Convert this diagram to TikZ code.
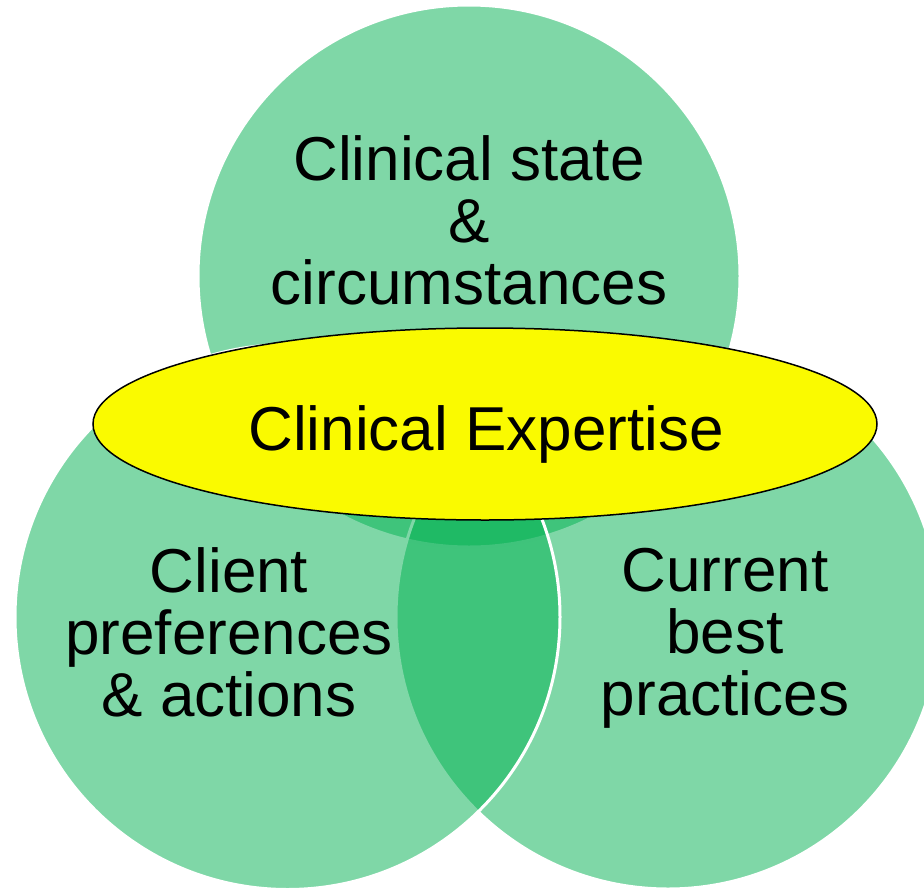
\documentclass[tikz,border=0pt]{standalone}
\usepackage{fontspec}
\setmainfont{Liberation Sans}
\usepackage{tikz}
\definecolor{vennGreen}{RGB}{0,176,80}
\definecolor{expertYellow}{RGB}{250,250,0}
\tikzset{
  venn/.style={fill=vennGreen, fill opacity=0.5, draw=white, line width=3pt},
  vennText/.style={align=center, inner sep=0pt, text=black, font=\fontsize{62}{62}\selectfont},
  expertise/.style={ellipse, fill=expertYellow, draw=black, line width=1.5pt,
    minimum width=784pt, minimum height=192pt, inner sep=0pt}
}
\usetikzlibrary{shapes.geometric}

\begin{document}
\begin{tikzpicture}[x=1pt, y=-1pt]
		%%%%% START %%%%%
		\useasboundingbox (0, 0) rectangle (924, 889);
		\clip (0, 0) rectangle (924, 889);
		
		% three circles
		\coordinate (state) at (469, 276);
		\coordinate (best) at (668, 617);
		\coordinate (client) at (287.5, 617);
		\draw[venn] (state) circle (271);
		\draw[venn] (best) circle (272);
		\draw[venn] (client) circle (272.5);
		
		% labels
		\node[vennText, anchor=north] (stateText) at (469, 135) {Clinical state\\\&\\circumstances};
		\node[vennText, anchor=north] (clientText) at (229, 547) {Client\\preferences\\\& actions};
		\node[vennText, anchor=north] (bestText) at (725, 548) {Current\\best\\practices};
		
		% ellipse on top
		\node[expertise] (expert) at (485, 424) {};
		\node[vennText, anchor=base] (expertText) at (486, 450) {Clinical Expertise};
		
		%%%%% END %%%%%
\end{tikzpicture}
\end{document}
